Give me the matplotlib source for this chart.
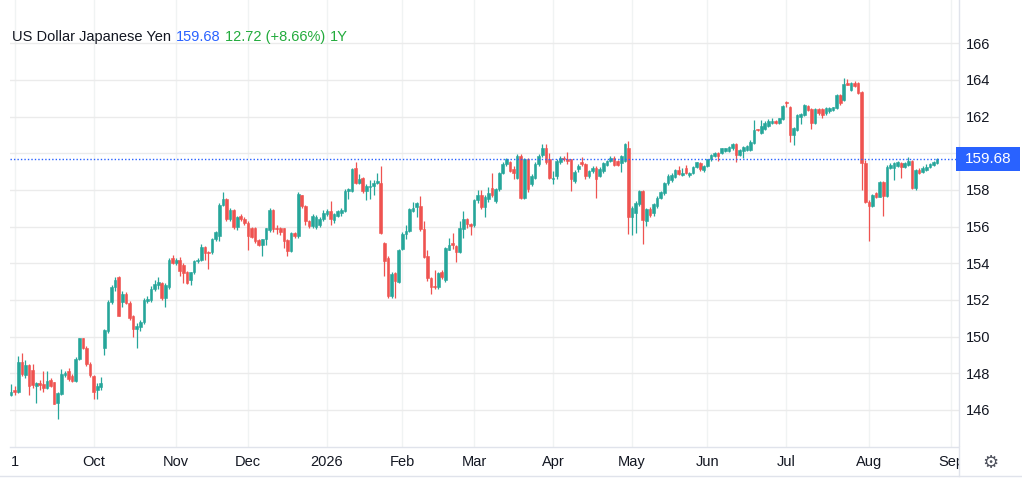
import pandas as pd
import matplotlib
matplotlib.use("Agg")
import matplotlib.pyplot as plt
from matplotlib.patches import Rectangle
from matplotlib.lines import Line2D
from matplotlib import transforms

plt.rcParams['font.family'] = ['Liberation Sans', 'DejaVu Sans']

# daily USD/JPY candles (29 Aug 2025 .. 28 Aug 2026)
opens = [
    146.8, 147.1, 147.0, 148.6, 147.9, 148.45, 148.2, 147.3, 147.45, 147.4,
    147.2, 147.65, 147.5, 146.4, 146.85, 147.9, 148.1, 147.85, 147.6, 148.8,
    149.9, 149.4, 148.5, 147.85, 147.1, 147.25, 149.4, 150.3, 151.9, 152.7,
    153.25, 151.9, 152.3, 151.85, 151.1, 150.4, 150.5, 150.8, 151.95, 152.0,
    152.6, 152.8, 152.9, 152.1, 152.7, 154.3, 154.0, 154.2, 153.9, 153.55,
    153.1, 153.5, 154.1, 154.2, 154.9, 154.6, 154.6, 155.3, 155.5, 157.2,
    157.5, 156.4, 156.9, 156.0, 156.6, 156.4, 156.2, 155.9, 155.9, 155.25,
    155.0, 155.3, 155.8, 156.9, 155.9, 155.9, 155.9, 155.25, 154.65, 155.65,
    155.5, 157.7, 157.15, 156.3, 156.05, 156.0, 156.1, 156.4, 156.7, 156.85,
    156.35, 156.6, 156.75, 156.85, 157.95, 157.95, 159.2, 158.4, 158.65, 157.95,
    158.15, 158.2, 158.4, 158.4, 155.1, 154.3, 152.2, 153.45, 153.0, 154.8,
    155.6, 155.75, 156.85, 157.05, 157.15, 155.85, 154.4, 153.2, 152.75, 152.7,
    153.5, 153.1, 154.75, 155.1, 154.95, 154.6, 155.85, 156.4, 156.15, 156.1,
    157.45, 157.7, 157.05, 157.5, 158.1, 157.4, 158.05, 158.9, 159.4, 159.55,
    159.15, 158.67, 159.85, 157.58, 159.67, 158.31, 158.67, 159.4, 159.9, 160.3,
    159.67, 158.6, 158.76, 159.5, 159.76, 159.7, 159.67, 158.5, 159.13, 159.5,
    159.4, 158.76, 159.04, 159.22, 158.76, 159.04, 159.35, 159.58, 159.76, 159.58,
    159.49, 159.58, 160.3, 156.55, 156.76, 157.22, 157.95, 156.31, 156.95, 156.76,
    157.13, 157.58, 157.85, 158.36, 158.55, 158.73, 159.1, 158.82, 159.2, 158.82,
    158.9, 159.27, 159.45, 159.1, 159.3, 159.67, 159.85, 160.0, 160.0, 160.1,
    160.1, 160.27, 160.5, 159.9, 160.1, 160.2, 160.2, 160.55, 161.3, 161.1,
    161.3, 161.5, 161.67, 161.75, 161.67, 161.85, 162.82, 162.55, 161.0, 161.27,
    162.0, 162.1, 162.6, 162.4, 161.67, 162.4, 162.4, 162.18, 162.3, 162.36,
    162.45, 163.18, 162.9, 163.85, 163.45, 163.85, 163.85, 163.36, 159.45, 157.36,
    157.13, 157.82, 157.64, 158.45, 157.67, 159.2, 159.18, 159.3, 159.45, 159.27,
    159.36, 159.6, 158.1, 159.1, 159.0, 159.1, 159.27, 159.36, 159.45,
]
highs = [
    147.4, 147.3, 148.95, 149.1, 148.7, 148.5, 148.5, 147.5, 147.65, 148.1,
    148.1, 147.75, 147.55, 147.0, 148.25, 148.1, 148.3, 147.95, 148.9, 149.95,
    149.95, 149.5, 148.6, 147.9, 147.45, 147.8, 150.4, 152.0, 152.8, 153.25,
    153.3, 152.5, 152.45, 151.95, 151.2, 150.75, 150.9, 152.1, 152.2, 152.75,
    153.1, 153.25, 153.0, 152.9, 154.3, 154.45, 154.3, 154.35, 154.0, 153.6,
    153.55, 154.2, 154.3, 155.05, 154.95, 154.65, 155.4, 155.75, 157.3, 157.9,
    157.55, 157.0, 156.95, 156.6, 156.7, 156.5, 156.3, 156.0, 156.0, 155.3,
    155.35, 155.95, 157.0, 156.95, 156.1, 156.0, 155.95, 155.3, 155.7, 155.7,
    157.9, 157.75, 157.2, 156.35, 156.7, 156.65, 156.5, 156.9, 156.95, 157.4,
    156.75, 156.9, 157.0, 158.05, 158.1, 159.2, 159.5, 158.85, 158.7, 158.3,
    158.55, 158.55, 158.95, 159.3, 155.15, 154.4, 153.5, 153.55, 154.8, 155.7,
    156.1, 157.0, 157.35, 157.35, 157.65, 156.3, 154.7, 153.25, 153.65, 153.5,
    153.65, 154.9, 155.4, 155.65, 155.0, 156.3, 156.85, 156.45, 156.2, 157.5,
    158.0, 158.0, 157.7, 158.15, 158.95, 158.1, 159.0, 159.5, 159.75, 159.6,
    159.3, 159.95, 159.95, 159.75, 159.75, 158.85, 159.5, 159.95, 160.5, 160.49,
    160.0, 159.05, 159.7, 159.85, 159.85, 160.05, 159.7, 159.1, 159.4, 159.8,
    159.45, 159.1, 159.3, 159.3, 159.25, 159.55, 159.65, 159.85, 159.85, 159.65,
    159.9, 160.55, 160.67, 157.1, 157.4, 158.0, 158.0, 157.0, 157.05, 157.3,
    157.65, 157.95, 158.45, 158.85, 158.9, 159.15, 159.3, 159.2, 159.35, 159.0,
    159.3, 159.55, 159.5, 159.35, 159.7, 159.95, 160.05, 160.05, 160.3, 160.3,
    160.4, 160.55, 160.55, 160.25, 160.4, 160.45, 160.7, 161.8, 161.35, 161.8,
    161.75, 161.85, 161.9, 161.8, 161.95, 162.65, 162.87, 162.6, 161.45, 162.15,
    162.2, 162.7, 162.65, 162.45, 162.45, 162.45, 162.45, 162.5, 162.5, 162.55,
    163.25, 163.25, 164.1, 164.05, 163.9, 163.95, 163.9, 163.4, 159.65, 157.45,
    157.8, 157.9, 158.5, 158.5, 159.35, 159.45, 159.5, 159.6, 159.55, 159.5,
    159.78, 159.65, 159.15, 159.2, 159.3, 159.4, 159.45, 159.6, 159.75,
]
lows = [
    146.75, 146.8, 146.95, 147.85, 147.75, 146.8, 147.2, 146.4, 147.1, 147.0,
    147.15, 147.25, 146.3, 145.5, 146.8, 147.8, 147.6, 147.5, 147.5, 148.7,
    149.3, 148.4, 147.8, 146.6, 146.6, 147.1, 149.0, 150.2, 151.8, 152.5,
    151.1, 151.6, 151.8, 150.9, 150.0, 149.4, 150.3, 150.7, 151.85, 151.9,
    152.5, 152.6, 152.0, 151.6, 152.6, 153.95, 153.9, 153.3, 152.95, 152.85,
    152.8, 153.4, 154.0, 154.1, 154.2, 153.7, 154.5, 155.2, 155.2, 157.1,
    156.3, 156.3, 155.85, 155.8, 156.3, 156.1, 154.7, 155.4, 155.1, 154.95,
    154.4, 155.0, 155.7, 155.7, 155.6, 155.55, 154.85, 154.4, 154.6, 155.4,
    155.4, 157.0, 156.1, 155.9, 155.95, 155.85, 156.0, 156.3, 156.6, 156.1,
    156.2, 156.5, 156.6, 156.8, 157.5, 157.9, 158.35, 158.3, 157.85, 157.45,
    157.5, 157.7, 158.3, 155.6, 153.3, 152.1, 152.1, 152.1, 152.9, 154.7,
    155.3, 155.7, 156.8, 156.5, 155.75, 154.3, 153.05, 152.3, 152.6, 152.6,
    153.15, 153.0, 154.7, 154.8, 154.05, 154.55, 155.4, 155.95, 155.55, 156.0,
    157.3, 156.95, 156.5, 157.35, 157.6, 157.3, 157.95, 158.85, 159.3, 159.0,
    158.6, 158.6, 157.5, 157.5, 157.9, 158.2, 158.6, 159.3, 159.8, 159.4,
    158.6, 158.3, 158.58, 159.4, 159.6, 159.4, 157.95, 158.4, 159.0, 159.3,
    158.62, 158.65, 158.95, 157.58, 158.7, 158.95, 159.3, 159.5, 159.3, 159.3,
    159.0, 159.5, 155.6, 155.53, 155.64, 157.1, 155.04, 156.04, 156.5, 156.6,
    157.0, 157.5, 157.75, 158.25, 158.45, 158.65, 158.8, 158.75, 158.85, 158.7,
    158.85, 159.2, 159.05, 159.0, 159.25, 159.6, 159.8, 159.6, 159.95, 160.05,
    160.05, 160.2, 159.55, 159.85, 159.75, 160.15, 160.15, 160.5, 161.2, 161.05,
    161.25, 161.45, 161.6, 161.6, 161.6, 161.8, 162.55, 160.64, 160.45, 161.2,
    161.6, 162.05, 162.3, 161.3, 161.6, 162.1, 161.95, 162.1, 162.2, 162.3,
    162.4, 162.65, 162.85, 163.7, 163.4, 163.6, 163.25, 158.0, 157.3, 155.2,
    157.05, 157.55, 157.6, 156.6, 157.6, 159.15, 158.55, 159.25, 158.65, 159.2,
    159.3, 158.05, 158.0, 158.85, 158.95, 159.05, 159.2, 159.3, 159.4,
]
closes = [
    147.0, 147.0, 148.6, 147.95, 148.45, 147.3, 147.35, 147.45, 147.35, 147.2,
    147.6, 147.3, 146.35, 146.9, 147.95, 148.0, 147.7, 147.6, 148.8, 149.9,
    149.4, 148.5, 147.9, 147.0, 147.3, 147.45, 150.35, 151.9, 152.7, 153.1,
    151.15, 152.3, 151.85, 151.0, 150.4, 150.6, 150.8, 152.0, 152.05, 152.6,
    152.85, 153.0, 152.1, 152.8, 154.2, 154.0, 154.2, 153.6, 153.45, 152.95,
    153.5, 154.1, 154.2, 154.9, 154.55, 154.55, 155.3, 155.7, 157.2, 157.5,
    156.4, 156.9, 156.0, 156.55, 156.4, 156.2, 155.5, 155.45, 155.2, 155.0,
    155.3, 155.9, 156.9, 155.85, 155.85, 155.7, 155.2, 154.65, 155.65, 155.5,
    157.8, 157.1, 156.3, 156.05, 156.6, 156.55, 156.4, 156.75, 156.85, 156.4,
    156.7, 156.85, 156.9, 157.95, 158.05, 159.15, 158.4, 158.6, 157.95, 158.2,
    158.2, 158.4, 158.5, 155.65, 154.1, 152.2, 153.4, 153.05, 154.75, 155.6,
    155.75, 156.95, 157.0, 157.3, 155.85, 154.35, 153.2, 152.7, 152.7, 153.45,
    153.25, 154.85, 155.0, 155.0, 154.6, 155.9, 156.4, 156.15, 156.05, 157.45,
    157.75, 157.05, 157.6, 157.85, 157.7, 158.05, 158.95, 159.4, 159.7, 159.05,
    158.95, 159.85, 157.58, 159.67, 158.04, 158.76, 159.4, 159.85, 160.3, 159.5,
    158.67, 158.65, 159.6, 159.76, 159.67, 159.58, 158.58, 159.0, 159.3, 159.4,
    158.76, 159.04, 159.22, 158.62, 159.16, 159.49, 159.58, 159.76, 159.35, 159.35,
    159.85, 160.49, 156.55, 157.04, 157.31, 157.95, 156.36, 156.95, 156.62, 157.22,
    157.58, 157.89, 158.4, 158.76, 158.82, 159.1, 158.88, 158.95, 158.9, 158.95,
    159.27, 159.5, 159.13, 159.3, 159.67, 159.9, 160.0, 159.85, 160.27, 160.27,
    160.36, 160.5, 159.9, 160.2, 160.36, 160.4, 160.64, 161.27, 161.25, 161.5,
    161.67, 161.78, 161.78, 161.65, 161.9, 162.58, 162.75, 161.0, 161.37, 162.1,
    162.15, 162.65, 162.36, 161.67, 162.4, 162.18, 162.1, 162.45, 162.45, 162.5,
    163.18, 162.73, 163.8, 163.73, 163.82, 163.67, 163.3, 159.45, 157.36, 157.13,
    157.73, 157.64, 158.45, 157.67, 159.27, 159.36, 159.45, 159.55, 159.27, 159.45,
    159.6, 158.1, 159.1, 158.9, 159.18, 159.27, 159.4, 159.5, 159.68,
]

title = 'US Dollar Japanese Yen'
change_text = '12.72 (+8.66%)'
period = '1Y'
month_starts = ['2025-09-01', '2025-10-01', '2025-11-01', '2025-12-01', '2026-01-01',
                '2026-02-01', '2026-03-01', '2026-04-01', '2026-05-01', '2026-06-01',
                '2026-07-01', '2026-08-01', '2026-09-01']
month_labels = ['1', 'Oct', 'Nov', 'Dec', '2026', 'Feb', 'Mar', 'Apr', 'May',
                'Jun', 'Jul', 'Aug', 'Sep']
holidays = ['2025-12-25', '2026-01-01']

UP = '#26a69a'
DOWN = '#ef5350'
BLUE = '#2962ff'
TEXT = '#131722'

# trading days -> bar index
days = pd.bdate_range('2025-08-29', '2026-08-28')
days = days[~days.isin(pd.to_datetime(holidays))][:len(closes)]
tick_pos = []
for m in pd.to_datetime(month_starts):
    if m <= days[-1]:
        tick_pos.append(days.searchsorted(m))
    else:
        # future part of the time scale runs on calendar days
        tick_pos.append(len(days) - 1 + (m - days[-1]).days)

W, H = 1022, 478
fig = plt.figure(figsize=(W / 100, H / 100), dpi=100)
ax = fig.add_axes([10 / W, 31 / H, 949 / W, 447 / H])

x = list(range(len(closes)))
colors = [UP if c >= o else DOWN for o, c in zip(opens, closes)]
body_low = [min(o, c) for o, c in zip(opens, closes)]
body_h = [abs(c - o) for o, c in zip(opens, closes)]

ax.vlines(x, lows, highs, colors=colors, linewidth=0.9, zorder=2)
ax.bar(x, body_h, bottom=body_low, width=0.74, color=colors,
       edgecolor=colors, linewidth=0.4, zorder=3)

last = closes[-1]
ax.axhline(last, color=BLUE, linewidth=1, linestyle=(0, (1, 1.5)), zorder=4)

ax.set_xlim(-0.3, 264.1)
ax.set_ylim(143.98, 168.36)
ax.set_yticks(range(146, 167, 2))
ax.set_xticks(tick_pos)
ax.set_xticklabels(month_labels)
ax.yaxis.tick_right()
ax.tick_params(axis='y', length=0, pad=5, labelsize=10.5, labelcolor=TEXT)
ax.tick_params(axis='x', length=0, pad=6, labelsize=10.5, labelcolor=TEXT)

ax.set_axisbelow(True)
ax.yaxis.grid(True, color='#ebebeb', linewidth=1)
ax.xaxis.grid(True, color='#f0f3f3', linewidth=1)
for s in ['top', 'left']:
    ax.spines[s].set_visible(False)
for s in ['bottom', 'right']:
    ax.spines[s].set_color('#e0e3eb')
    ax.spines[s].set_linewidth(1)

# price tag on the right scale
blend = transforms.blended_transform_factory(fig.transFigure, ax.transData)
ax.add_patch(Rectangle((956 / W, last - 0.66), 64 / W, 1.32, transform=blend,
                       facecolor=BLUE, edgecolor='none', clip_on=False, zorder=10))
ax.text(988 / W, last, f'{last:.2f}', transform=blend, color='white',
        fontsize=11, ha='center', va='center', zorder=11)

# mask the time labels under the price scale, then frame lines and gear
fig.add_artist(Rectangle((960 / W, 1 / H), 62 / W, 30 / H, transform=fig.transFigure,
                         facecolor='white', edgecolor='none', zorder=3))
fig.add_artist(Line2D([959 / W, 959 / W], [2 / H, 31 / H], transform=fig.transFigure,
                      color='#e0e3eb', linewidth=1, zorder=4))
fig.add_artist(Line2D([0, 1], [2 / H, 2 / H], transform=fig.transFigure,
                      color='#e0e3eb', linewidth=1, zorder=4))
fig.text(990 / W, 1 - 463 / H, '\u2699', fontsize=13, color='#50535e',
         ha='center', va='center', family='DejaVu Sans', zorder=5)

# legend line at the top left
r = fig.canvas.get_renderer()
ty = 1 - 37 / H
xpos = 12 / W
for txt, col in [(title, TEXT), (f'{last:.2f}', BLUE),
                 (change_text, '#22ab3c'), (period, '#22ab3c')]:
    t = fig.text(xpos, ty, txt, fontsize=10.5, color=col, va='center')
    xpos = fig.transFigure.inverted().transform(
        (t.get_window_extent(r).x1 + 4.5, 0))[0]

fig.savefig('out.png', dpi=100, facecolor='white')
